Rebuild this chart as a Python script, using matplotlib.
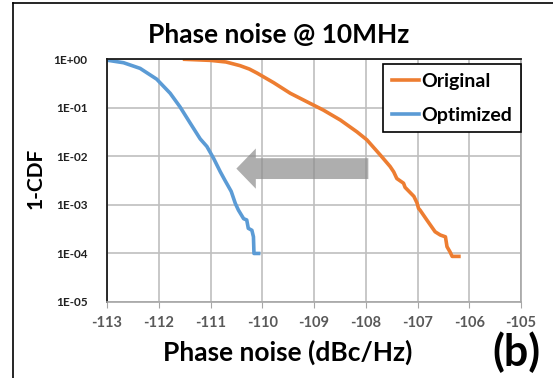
import numpy as np
import matplotlib.pyplot as plt
from matplotlib.lines import Line2D

# data (x: phase noise in dBc/Hz, y: 1-CDF)
orig_x = [-111.5, -111.0, -110.7, -110.43, -110.25, -110.10, -109.78, -109.46, -109.14, -108.82,
          -108.49, -108.17, -107.98, -107.72, -107.53, -107.46, -107.40, -107.27, -107.24,
          -107.07, -107.01, -106.98, -106.95, -106.82, -106.66, -106.56, -106.46, -106.43,
          -106.37, -106.33, -106.20]
orig_y = [1.0, 0.95, 0.88, 0.74, 0.63, 0.52, 0.33, 0.20, 0.134, 0.090,
          0.056, 0.032, 0.022, 0.0107, 0.0062, 0.0048, 0.0035, 0.0028, 0.0023,
          0.0015, 0.0011, 0.00085, 0.00078, 0.00049, 0.00028, 0.00024, 0.00022, 0.000138,
          0.000107, 0.000087, 0.000087]

opt_x = [-113.0, -112.68, -112.36, -112.04, -111.78, -111.59, -111.39, -111.20, -111.07,
         -110.94, -110.81, -110.72, -110.60, -110.52, -110.46, -110.36, -110.30, -110.27,
         -110.20, -110.17, -110.16, -110.07]
opt_y = [0.96, 0.85, 0.65, 0.39, 0.20, 0.105, 0.048, 0.023, 0.016,
         0.0091, 0.0048, 0.0032, 0.0019, 0.00107, 0.00078, 0.00052, 0.00049, 0.00033,
         0.0003, 0.00022, 0.0001, 0.0001]

x_ticks = list(range(-113, -104))
y_ticks = [1e0, 1e-1, 1e-2, 1e-3, 1e-4, 1e-5]
y_labels = ['1E+00', '1E-01', '1E-02', '1E-03', '1E-04', '1E-05']

# shift arrow: from -107.95 to -110.5 at 1-CDF ~ 5.6e-3
arrow_from = -107.95
arrow_to = -110.5
arrow_level = 0.0056

plt.rcParams['font.family'] = ['Lato', 'DejaVu Sans']

fig = plt.figure(figsize=(5.53, 3.78), dpi=100)
ax = fig.add_axes([107/553, 1 - 302/378, 414/553, 242.7/378])

orange = '#ED7D31'
blue = '#5B9BD5'

ax.plot(orig_x, orig_y, color=orange, lw=2.6, solid_joinstyle='round')
ax.plot(opt_x, opt_y, color=blue, lw=2.6, solid_joinstyle='round')

ax.set_yscale('log')
ax.set_xlim(-113, -105)
ax.set_ylim(1e-5, 1)
ax.set_xticks(x_ticks)
ax.set_xticklabels([str(t) for t in x_ticks], fontsize=10.5, fontweight='bold', color='#595959')
ax.set_yticks(y_ticks)
ax.set_yticklabels(y_labels, fontsize=8.5, fontweight='bold', color='#202020')
ax.minorticks_off()
ax.tick_params(axis='y', length=0, pad=14)
ax.tick_params(axis='x', length=4, color='#a6a6a6', pad=6)
ax.grid(True, color='#bfbfbf', lw=1.2)
ax.set_axisbelow(True)

for side in ['left', 'top']:
    ax.spines[side].set_color('#1a1a1a')
    ax.spines[side].set_linewidth(1.3)
for side in ['right', 'bottom']:
    ax.spines[side].set_color('#a6a6a6')
    ax.spines[side].set_linewidth(1.2)

ax.annotate('', xy=(arrow_to, arrow_level), xytext=(arrow_from, arrow_level),
            arrowprops=dict(arrowstyle='simple,head_width=2.9,head_length=1.4,tail_width=1.5',
                            mutation_scale=10, color='#8c8c8c', alpha=0.7, lw=0,
                            shrinkA=0, shrinkB=0))

fig.text(279/553, 1 - 35/378, 'Phase noise @ 10MHz', fontsize=19, fontweight='bold',
         ha='center', va='center')
fig.text(288/553, 1 - 352/378, 'Phase noise (dBc/Hz)', fontsize=19, fontweight='bold',
         ha='center', va='center')
fig.text(36/553, 1 - 178/378, '1-CDF', fontsize=15, fontweight='bold', rotation=90,
         ha='center', va='center')

handles = [Line2D([], [], color=orange, lw=2.6), Line2D([], [], color=blue, lw=2.6)]
leg = ax.legend(handles, ['Original', 'Optimized'], loc='upper right',
                bbox_to_anchor=(1.0, 0.979), prop={'weight': 'bold', 'size': 14},
                handlelength=1.4, handletextpad=0.1, borderpad=0.45, labelspacing=0.85,
                fancybox=False, framealpha=1, borderaxespad=0)
leg.get_frame().set_edgecolor('black')
leg.get_frame().set_linewidth(1.2)

fig.text(516/553, 1 - 352/378, '(b)', fontsize=31, fontweight='bold', ha='center', va='center')

# outer frame lines (top and left)
fig.add_artist(Line2D([12.7/553, 1], [1 - 3.3/378, 1 - 3.3/378], color='black', lw=1.2))
fig.add_artist(Line2D([12.7/553, 12.7/553], [0, 1 - 3.3/378], color='black', lw=1.2))

fig.savefig('out.png', dpi=100)
